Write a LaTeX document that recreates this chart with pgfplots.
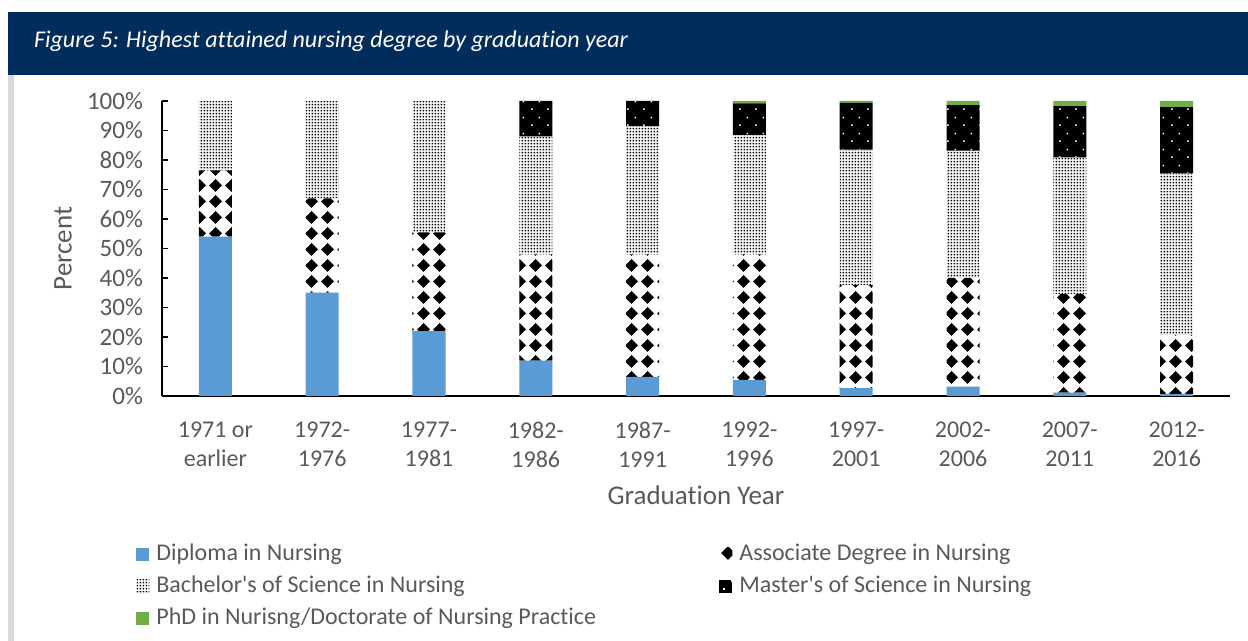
\documentclass[border=0pt]{standalone}
\usepackage{fontspec}
\setmainfont{Carlito}[Ligatures={NoCommon,TeXOff}]
\usepackage{pgfplots}
\usepackage{pgfplotstable}
\pgfplotsset{compat=1.18}
\usetikzlibrary{patterns}

\definecolor{navy}{HTML}{002D5C}
\definecolor{dipblue}{HTML}{5B9BD5}
\definecolor{phdgreen}{HTML}{70AD47}
\definecolor{txtgray}{HTML}{595959}
\definecolor{edgegray}{HTML}{D9D9D9}

% associate: black diamonds on white
\pgfdeclarepatternformonly{assocdiam}{\pgfqpoint{0pt}{0pt}}{\pgfqpoint{8pt}{8pt}}{\pgfqpoint{8pt}{8pt}}{
  \pgfpathmoveto{\pgfqpoint{4pt}{0.6pt}}
  \pgfpathlineto{\pgfqpoint{7.4pt}{4pt}}
  \pgfpathlineto{\pgfqpoint{4pt}{7.4pt}}
  \pgfpathlineto{\pgfqpoint{0.6pt}{4pt}}
  \pgfpathclose
  \pgfusepath{fill}}
% bachelor: fine dots
\pgfdeclarepatternformonly{bachdots}{\pgfqpoint{0pt}{0pt}}{\pgfqpoint{1.7pt}{1.6pt}}{\pgfqpoint{1.7pt}{1.6pt}}{
  \pgfpathrectangle{\pgfqpoint{0.35pt}{0.35pt}}{\pgfqpoint{0.9pt}{0.9pt}}
  \pgfusepath{fill}}
% master: sparse dots (drawn white over black)
\pgfdeclarepatternformonly{masterdots}{\pgfqpoint{0pt}{0pt}}{\pgfqpoint{8pt}{8pt}}{\pgfqpoint{8pt}{8pt}}{
  \pgfpathrectangle{\pgfqpoint{1.6pt}{1.6pt}}{\pgfqpoint{0.8pt}{0.8pt}}
  \pgfpathrectangle{\pgfqpoint{5.6pt}{5.6pt}}{\pgfqpoint{0.8pt}{0.8pt}}
  \pgfusepath{fill}}

\pgfplotstableread{
x  dip   assoc bach  mast  phd
0  54    22.5  23.5  0     0
1  35    32    33    0     0
2  22    33.5  44.5  0     0
3  12    36    40    12    0
4  6.5   41.5  43.5  8.5   0
5  5.5   42.5  40.5  10.7  0.8
6  2.7   35    45.8  15.9  0.6
7  3.2   36.8  43.2  15.4  1.4
8  1.1   33.5  46.3  17.4  1.7
9  0.7   20    54.8  22.4  2.1
}\degrees

\begin{document}
\begin{tikzpicture}
% title bar and frame
\fill[navy] (4pt,283pt) rectangle (624pt,314.5pt);
\node[anchor=west, text=white, font=\fontsize{12}{14}\selectfont\itshape] at (13.5pt,300pt)
  {Figure 5: Highest attained nursing degree by graduation year};
\fill[edgegray] (4pt,0pt) rectangle (7pt,283pt);

\begin{axis}[
    at={(81pt,122.5pt)}, anchor=south west,
    scale only axis,
    width=534pt, height=147.5pt,
    ybar stacked,
    bar width=16.5pt,
    xmin=-0.5, xmax=9.5,
    ymin=0, ymax=100,
    axis x line*=bottom, axis y line*=left,
    axis line style={black, line width=0.6pt, -},
    xtick=data,
    xticklabels={{1971 or\\earlier},{1972-\\1976},{1977-\\1981},{1982-\\1986},{1987-\\1991},{1992-\\1996},{1997-\\2001},{2002-\\2006},{2007-\\2011},{2012-\\2016}},
    xtick style={draw=none},
    xticklabel style={align=center, text=txtgray, font=\fontsize{12}{14.5}\selectfont, yshift=-9.5pt},
    ytick={0,10,...,100},
    yticklabels={0\%,10\%,20\%,30\%,40\%,50\%,60\%,70\%,80\%,90\%,100\%},
    yticklabel style={text=txtgray, font=\fontsize{12.5}{14}\selectfont, xshift=-6pt},
    ytick style={black, line width=0.6pt},
    tick align=inside,
    major tick length=3pt,
    xlabel={Graduation Year},
    ylabel={Percent},
    label style={text=txtgray, font=\fontsize{13.5}{16}\selectfont},
    xlabel style={at={(axis description cs:0.5,-0.3356)}, anchor=center},
    ylabel style={at={(axis description cs:-0.0927,0.5)}, anchor=center},
    every axis plot post/.append style={
      legend image code/.code={\path[##1,draw=none] (0pt,-3.25pt) rectangle (6.5pt,3.25pt);}},
    legend columns=2,
    legend cell align=left,
    legend style={at={(axis description cs:-0.03,-0.47)}, anchor=north west,
      draw=none, fill=none, text=txtgray, font=\fontsize{12}{14}\selectfont,
      row sep=1pt,
      nodes={text height=8.5pt, text depth=2.5pt, inner sep=2pt}},
]
\addplot[fill=dipblue, draw=none] table[x=x, y=dip] {\degrees};
\addlegendentry{\makebox[281pt][l]{\hspace{1.5pt}Diploma in Nursing}}
\addplot[pattern=assocdiam, pattern color=black, draw=none] table[x=x, y=assoc] {\degrees};
\addlegendentry{\hspace{1.5pt}Associate Degree in Nursing}
\addplot[pattern=bachdots, pattern color=black, draw=none] table[x=x, y=bach] {\degrees};
\addlegendentry{\makebox[281pt][l]{\hspace{1.5pt}Bachelor's of Science in Nursing}}
\addplot[fill=black, postaction={pattern=masterdots, pattern color=white}, draw=none] table[x=x, y=mast] {\degrees};
\addlegendentry{\hspace{1.5pt}Master's of Science in Nursing}
\addplot[fill=phdgreen, draw=none] table[x=x, y=phd] {\degrees};
\addlegendentry{\makebox[281pt][l]{\hspace{1.5pt}PhD in Nurisng/Doctorate of Nursing Practice}}
\end{axis}

\pgfresetboundingbox
\path (0pt,0pt) rectangle (624pt,320.5pt);
\end{tikzpicture}
\end{document}
